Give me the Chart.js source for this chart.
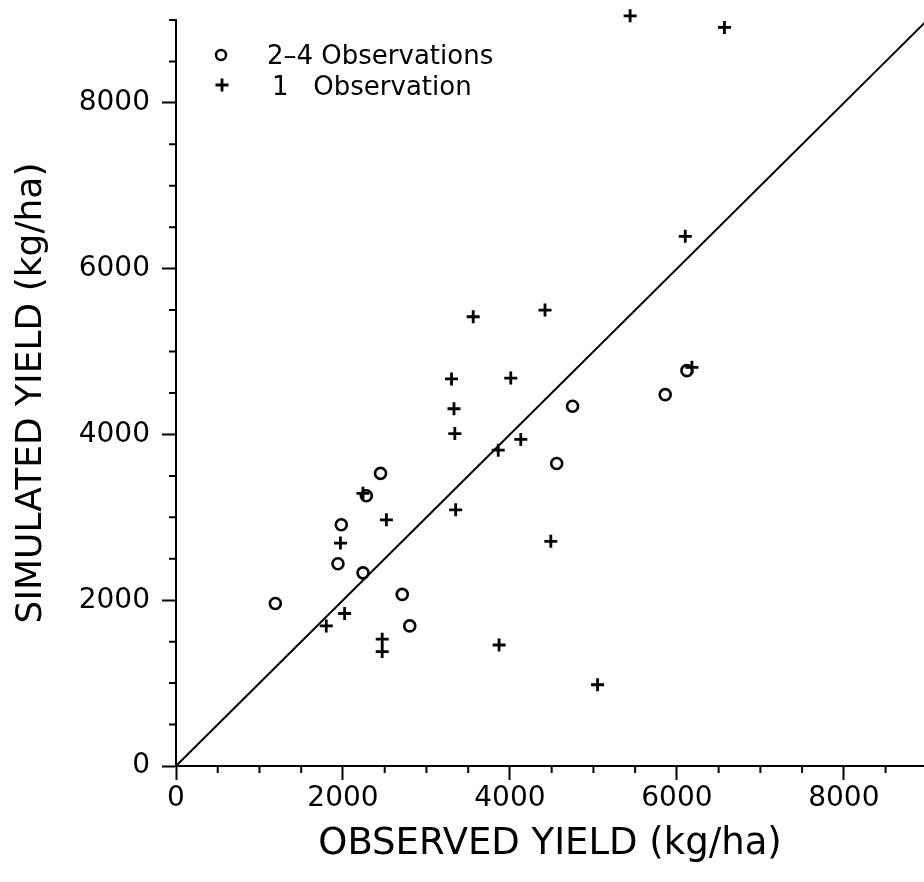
<!DOCTYPE html>
<html>
<head>
<meta charset="utf-8">
<script src="https://cdn.jsdelivr.net/npm/chart.js@4.4.1/dist/chart.umd.min.js"></script>
<style>
  html, body { margin: 0; padding: 0; background: #fff; }
  #wrap { width: 924px; height: 882px; }
</style>
</head>
<body>
<div id="wrap"><canvas id="yieldChart" width="924" height="882"></canvas></div>
<script>
// points, kg/ha
const circleObserved = [1190, 1940, 1980, 2240, 2280, 2450, 2710, 2800, 4560, 4750, 5860, 6120];
const circleSimulated = [1960, 2440, 2910, 2330, 3260, 3530, 2070, 1690, 3650, 4340, 4480, 4770];

const plusObserved = [5440, 6570, 6100, 6180, 3560, 4420, 3300, 4010, 3330, 3340, 4130, 3860,
  2520, 3350, 1970, 4490, 2020, 1800, 2470, 2470, 3870, 5050, 2240];
const plusSimulated = [9050, 8910, 6390, 4810, 5420, 5500, 4670, 4680, 4310, 4010, 3940, 3810,
  2970, 3090, 2690, 2710, 1840, 1690, 1530, 1380, 1460, 980, 3290];

// 1:1 line
const diagonalX = [0, 9000];
const diagonalY = [0, 9000];

const xTitle = "OBSERVED YIELD (kg/ha)";
const yTitle = "SIMULATED YIELD (kg/ha)";
const legendLabels = ["2\u20134 Observations", "1   Observation"];

const xMax = 8960;
const yMax = 9000;
const minorStep = 500;
const majorStep = 2000;

function toPoints(xs, ys) {
  return xs.map((x, i) => ({ x: x, y: ys[i] }));
}

function isMajor(v) {
  return Math.round(v) % majorStep === 0;
}

// ticks every 500 up to the scale max (chart.js would stretch the step otherwise)
function stepTicks(scale) {
  const out = [];
  for (let v = 0; v <= scale.max; v += minorStep) out.push({ value: v });
  scale.ticks = out;
}

Chart.defaults.font.family = '"DejaVu Sans", sans-serif';
Chart.defaults.color = "#000";

// short ticks every 500 (the long ones come from the axis itself)
const minorTicks = {
  id: "minorTicks",
  afterDraw(chart) {
    const { ctx, chartArea } = chart;
    const xs = chart.scales.x;
    const ys = chart.scales.y;
    ctx.save();
    ctx.strokeStyle = "#000";
    ctx.lineWidth = 2;
    ctx.beginPath();
    xs.ticks.forEach((t) => {
      if (!isMajor(t.value)) {
        const px = xs.getPixelForValue(t.value);
        ctx.moveTo(px, chartArea.bottom);
        ctx.lineTo(px, chartArea.bottom + 7);
      }
    });
    ys.ticks.forEach((t) => {
      if (!isMajor(t.value)) {
        const py = ys.getPixelForValue(t.value);
        ctx.moveTo(chartArea.left, py);
        ctx.lineTo(chartArea.left - 7, py);
      }
    });
    ctx.stroke();
    ctx.restore();
  },
};

// legend sits inside the plot, top left
const cornerLegend = {
  id: "cornerLegend",
  afterDatasetsDraw(chart) {
    const ctx = chart.ctx;
    ctx.save();
    ctx.strokeStyle = "#000";
    ctx.fillStyle = "rgba(0,0,0,0)";
    ctx.lineWidth = 2.5;
    Chart.helpers.drawPoint(ctx, { pointStyle: "circle", radius: 5, borderWidth: 2.5, rotation: 0 }, 221, 55);
    ctx.lineWidth = 2.8;
    Chart.helpers.drawPoint(ctx, { pointStyle: "cross", radius: 6.5, borderWidth: 2.8, rotation: 0 }, 222, 85);
    ctx.fillStyle = "#000";
    ctx.font = '26px "DejaVu Sans"';
    ctx.textBaseline = "alphabetic";
    ctx.textAlign = "left";
    ctx.fillText(legendLabels[0], 267, 64);
    ctx.fillText(legendLabels[1], 272, 95);
    ctx.restore();
  },
};

const ctx = document.getElementById("yieldChart").getContext("2d");

new Chart(ctx, {
  type: "scatter",
  data: {
    datasets: [
      {
        label: "1:1",
        type: "line",
        data: toPoints(diagonalX, diagonalY),
        borderColor: "#000",
        borderWidth: 2,
        pointRadius: 0,
        fill: false,
      },
      {
        label: legendLabels[0],
        data: toPoints(circleObserved, circleSimulated),
        pointStyle: "circle",
        pointRadius: 5.5,
        borderColor: "#000",
        backgroundColor: "rgba(0,0,0,0)",
        borderWidth: 2.6,
      },
      {
        label: legendLabels[1],
        data: toPoints(plusObserved, plusSimulated),
        pointStyle: "cross",
        pointRadius: 6.5,
        borderColor: "#000",
        borderWidth: 2.8,
        clip: false, // one point sits just above the top of the axis
      },
    ],
  },
  options: {
    responsive: false,
    animation: false,
    events: [],
    layout: { autoPadding: false, padding: { top: 20, right: 0, left: 0, bottom: 0 } },
    scales: {
      x: {
        type: "linear",
        min: 0,
        max: xMax,
        afterBuildTicks: stepTicks,
        afterFit: (s) => {
          s.height = 116;
          s.paddingLeft = 0;
          s.paddingRight = 0;
        },
        ticks: {
          autoSkip: false,
          maxRotation: 0,
          padding: 2,
          color: "#000",
          font: { size: 28 },
          callback: (v) => (isMajor(v) ? String(Math.round(v)) : ""),
        },
        grid: {
          drawOnChartArea: false,
          tickLength: 14,
          tickWidth: 2,
          tickColor: (c) => (c.tick && isMajor(c.tick.value) ? "#000" : "rgba(0,0,0,0)"),
        },
        border: { display: true, color: "#000", width: 2 },
        title: {
          display: true,
          text: xTitle,
          color: "#000",
          font: { size: 37 },
          padding: { top: 0, bottom: 15 },
        },
      },
      y: {
        type: "linear",
        min: 0,
        max: yMax,
        afterBuildTicks: stepTicks,
        afterFit: (s) => {
          s.width = 176;
          s.paddingTop = 0;
          s.paddingBottom = 0;
        },
        ticks: {
          autoSkip: false,
          padding: 12,
          color: "#000",
          font: { size: 28 },
          callback: (v) => (isMajor(v) ? String(Math.round(v)) : ""),
        },
        grid: {
          drawOnChartArea: false,
          tickLength: 14,
          tickWidth: 2,
          tickColor: (c) => (c.tick && isMajor(c.tick.value) ? "#000" : "rgba(0,0,0,0)"),
        },
        border: { display: true, color: "#000", width: 2 },
        title: {
          display: true,
          text: yTitle,
          color: "#000",
          font: { size: 36 },
          padding: { top: 10, bottom: 0 },
        },
      },
    },
    plugins: {
      legend: { display: false },
      tooltip: { enabled: false },
      title: { display: false },
    },
  },
  plugins: [minorTicks, cornerLegend],
});
</script>
</body>
</html>
